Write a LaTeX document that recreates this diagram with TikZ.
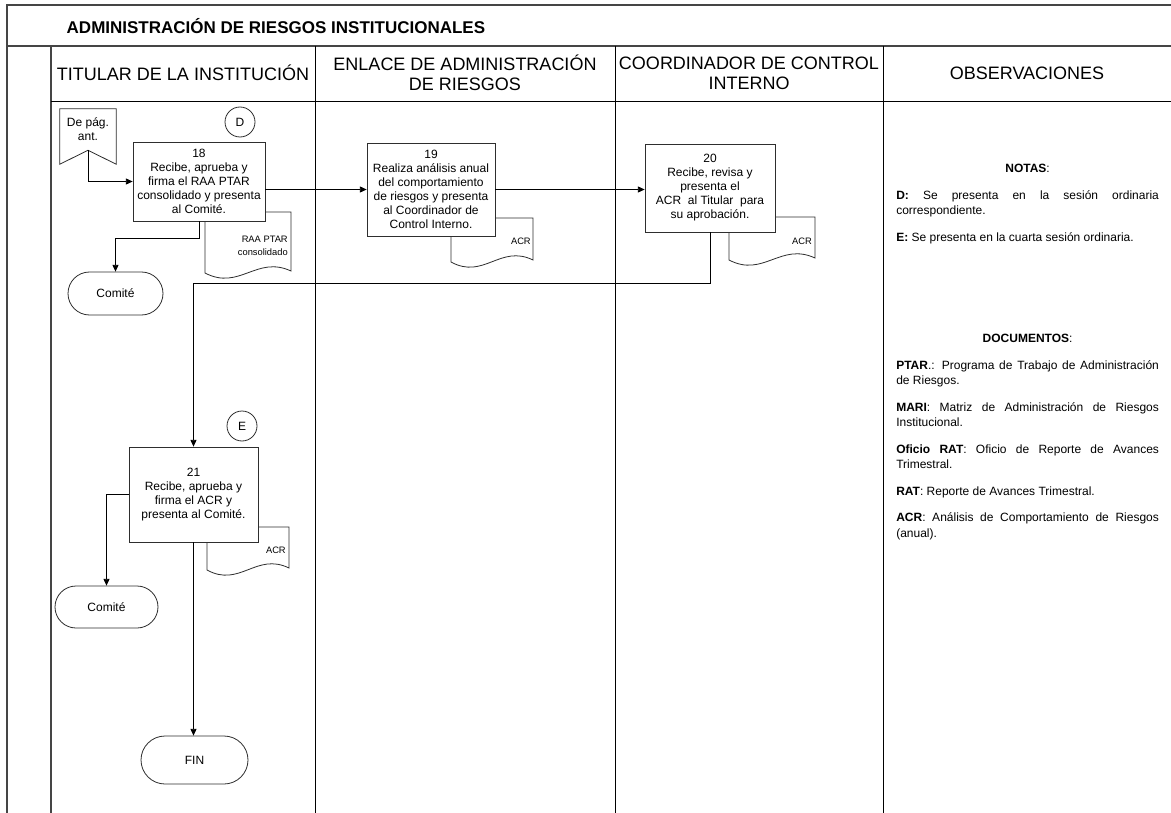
\documentclass[tikz,border=0pt]{standalone}
\usepackage{fontspec}
\setmainfont{Liberation Sans}
\usetikzlibrary{arrows.meta,shapes.misc}
\setlength{\parindent}{0pt}
\hyphenpenalty=10000
\exhyphenpenalty=10000
\tolerance=9999
\definecolor{framegray}{HTML}{454545}
\definecolor{linegray}{HTML}{2E2E2E}
\tikzset{
  frame/.style={line width=1.2pt,color=framegray},
  lane/.style={line width=0.7pt,color=black},
  proc/.style={draw=linegray,line width=0.6pt,fill=white,align=center,inner sep=1pt,font=\fontsize{9}{10.5}\selectfont},
  term/.style={draw=linegray,line width=0.6pt,fill=white,rounded rectangle,inner sep=0pt,font=\fontsize{9}{10.5}\selectfont},
  conn/.style={draw=linegray,line width=0.6pt,circle,minimum size=22.5pt,inner sep=0pt,font=\fontsize{9}{10.5}\selectfont},
  outline/.style={draw=linegray,line width=0.6pt},
  docline/.style={draw=linegray,line width=0.6pt,fill=white},
  doctext/.style={font=\fontsize{7}{9.5}\selectfont,align=right,inner sep=0pt},
  flow/.style={draw=black,line width=0.6pt,-{Triangle[length=5pt,width=4.5pt]}},
  head/.style={font=\fontsize{13.5}{15}\selectfont,align=center},
  notes/.style={font=\fontsize{9}{11.5}\selectfont,text width=197pt,align=justify,inner sep=0pt}
}
\begin{document}
\begin{tikzpicture}[x=0.75pt,y=-0.75pt]
\useasboundingbox (0,0) rectangle (1171,813);
\fill[white] (0,0) rectangle (1171,813);
\draw[frame] (7,813)--(7,5)--(1171,5);
\draw[frame] (7,46)--(1171,46);
\draw[frame] (51,46)--(51,813);
\draw[lane] (51,101)--(1171,101);
\draw[lane] (315,46)--(315,813);
\draw[lane] (615,46)--(615,813);
\draw[lane] (883,46)--(883,813);

\node[anchor=west,font=\bfseries\fontsize{12.75}{15}\selectfont] (title) at (62,26) {ADMINISTRACIÓN DE RIESGOS INSTITUCIONALES};
\node[head] (hTitular) at (183,73) {TITULAR DE LA INSTITUCIÓN};
\node[head] (hEnlace) at (465,73) {ENLACE DE ADMINISTRACIÓN\\DE RIESGOS};
\node[head] (hCoord) at (749,73) {COORDINADOR DE CONTROL\\INTERNO};
\node[head] (hObs) at (1027,73) {OBSERVACIONES};

\draw[docline] (205,212)--(291,212)--(291,271) .. controls (256.6,255) and (239.4,291) .. (205,273)--cycle;
\draw[docline] (451,218)--(533,218)--(533,260) .. controls (500.2,244) and (483.8,280) .. (451,262)--cycle;
\draw[docline] (729,217)--(815,217)--(815,258) .. controls (780.6,242) and (763.4,278) .. (729,260)--cycle;
\draw[docline] (207,527)--(289,527)--(289,568) .. controls (256.2,552) and (239.8,588) .. (207,570)--cycle;
\node[doctext,anchor=north east] (dRaa) at (288,236) {RAA PTAR\\consolidado};
\node[doctext,anchor=east] (dAcr19) at (531,241) {ACR};
\node[doctext,anchor=east] (dAcr20) at (812,241) {ACR};
\node[doctext,anchor=east] (dAcr21) at (286,550) {ACR};

\node[font=\fontsize{9}{10.5}\selectfont,align=center,minimum width=42pt,minimum height=30.75pt,inner sep=0pt] (deprev) at (88,129.5) {De pág.\\ant.};
\draw[outline] (deprev.north west)--(deprev.north east)--([yshift=-10.5pt]deprev.south east)--(deprev.south)--([yshift=-10.5pt]deprev.south west)--cycle;
\node[conn] (cD) at (240,122) {D};
\node[conn] (cE) at (242,426) {E};

\node[proc,minimum width=99pt,minimum height=59.25pt] (b18) at (199,181.5) {18\\Recibe, aprueba y\\firma el RAA PTAR\\consolidado y presenta\\al Comité.};
\node[proc,minimum width=96pt,minimum height=69.75pt] (b19) at (431,189.5) {19\\Realiza análisis anual\\del comportamiento\\de riesgos y presenta\\al Coordinador de\\Control Interno.};
\node[proc,minimum width=97.5pt,minimum height=66pt] (b20) at (710,188) {20\\Recibe, revisa y\\presenta el\\ACR~ al Titular~ para\\su aprobación.};
\node[proc,minimum width=96.75pt,minimum height=71.25pt] (b21) at (193.5,494.5) {21\\Recibe, aprueba y\\firma el ACR y\\presenta al Comité.};
\node[term,minimum width=71.25pt,minimum height=32.25pt] (comite1) at (115.5,293.5) {Comité};
\node[term,minimum width=77.25pt,minimum height=31.5pt] (comite2) at (106.5,607) {Comité};
\node[term,minimum width=80.25pt,minimum height=36pt] (fin) at (194.5,760) {FIN};

\draw[flow] (deprev.south) |- (b18.west);
\draw[flow] (b18.south) -- ++(0,17) -| (comite1.north);
\draw[flow] (b18.east |- b19.west) -- (b19.west);
\draw[flow] (b19.east) -- (b19.east -| b20.west);
\draw[flow] (b20.south) -- ++(0,51) -| (b21.north);
\draw[flow] (b21.west) -| (comite2.north);
\draw[flow] (b21.south) -- (b21.south |- fin.north);

\node[notes,anchor=north west] (notas) at (896,164) {\setlength{\parskip}{8.5pt}{\centering\textbf{NOTAS}:\par}\textbf{D:} Se presenta en la sesión ordinaria correspondiente.\par\textbf{E:} Se presenta en la cuarta sesión ordinaria.};
\node[notes,anchor=north west] (docs) at (896,334) {\setlength{\parskip}{8.5pt}{\centering\textbf{DOCUMENTOS}:\par}\textbf{PTAR}.: Programa de Trabajo de Administración de Riesgos.\par\textbf{MARI}: Matriz de Administración de Riesgos Institucional.\par\textbf{Oficio RAT}: Oficio de Reporte de Avances Trimestral.\par\textbf{RAT}: Reporte de Avances Trimestral.\par\textbf{ACR}: Análisis de Comportamiento de Riesgos (anual).};
\end{tikzpicture}
\end{document}
